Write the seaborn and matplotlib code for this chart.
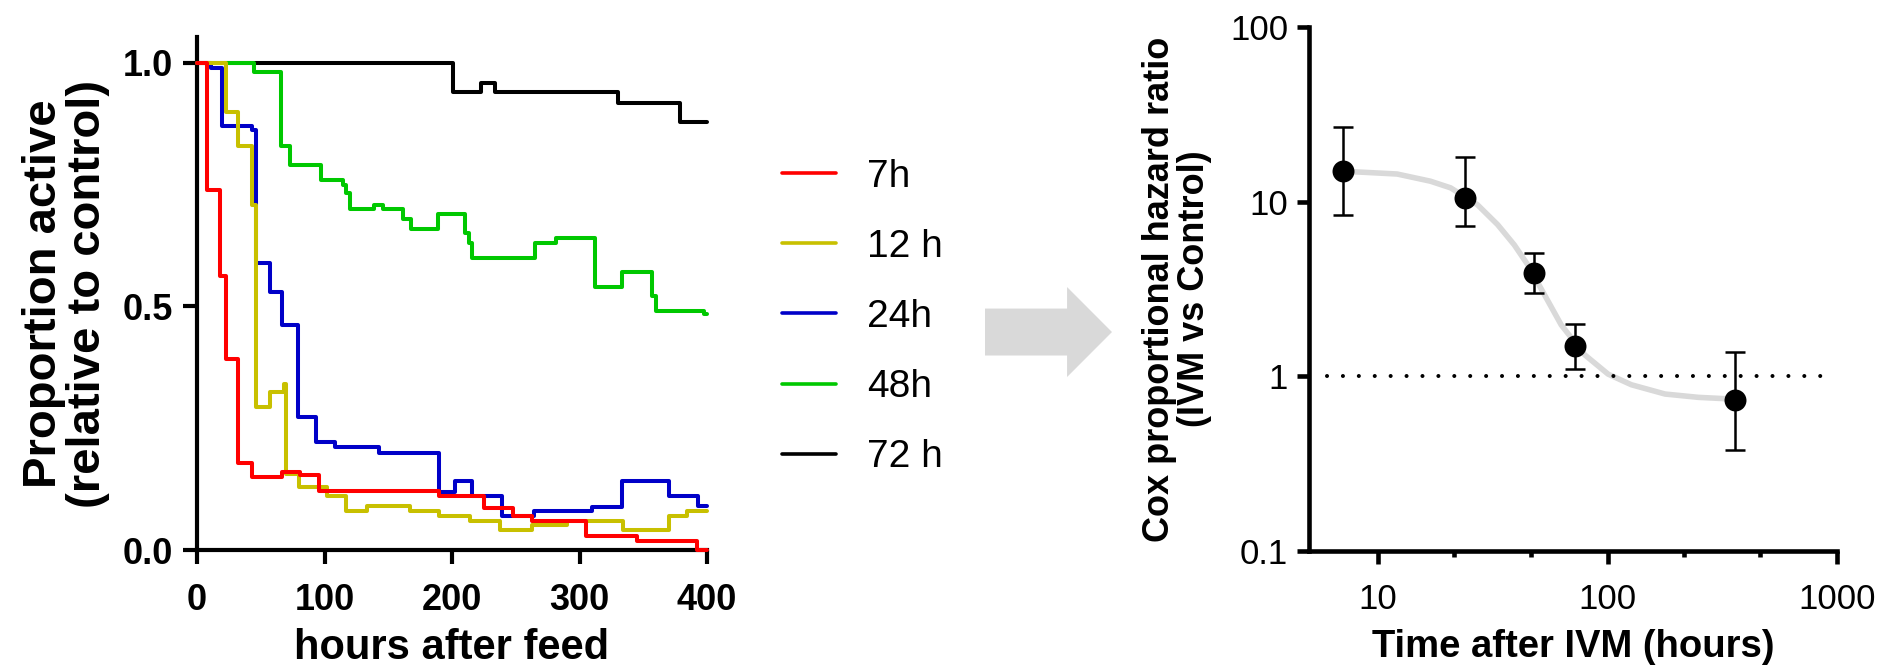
import matplotlib
matplotlib.use('Agg')
import matplotlib.pyplot as plt
import seaborn as sns
from matplotlib.patches import FancyArrow
from matplotlib.lines import Line2D
from matplotlib.ticker import NullLocator

sns.set_style('ticks')
plt.rcParams['font.family'] = ['Liberation Sans', 'DejaVu Sans']
for key in ['text.color', 'axes.labelcolor', 'xtick.color', 'ytick.color', 'axes.edgecolor']:
    plt.rcParams[key] = 'black'

# left panel: proportion active (step curves), hours after feed
series_names = ['7h', '12 h', '24h', '48h', '72 h']
series_colors = ['#ff0000', '#c8c000', '#0000c8', '#00c800', '#000000']

t_7h = [0, 7.6, 18, 22.4, 32, 43, 67, 81, 95.6, 190, 225, 248, 263, 305, 345, 392, 400]
p_7h = [1.0, 0.738, 0.562, 0.393, 0.179, 0.150, 0.160, 0.153, 0.121, 0.110, 0.086, 0.069, 0.060, 0.029, 0.019, 0.0, 0.0]

t_12h = [0, 22.9, 32.3, 43, 46.6, 57.4, 68, 70, 80, 102, 117, 133, 167, 190, 214, 238, 263, 290, 334, 370, 384, 400]
p_12h = [1.0, 0.90, 0.829, 0.709, 0.293, 0.324, 0.341, 0.155, 0.130, 0.110, 0.081, 0.090, 0.081, 0.070, 0.059, 0.041, 0.052, 0.059, 0.041, 0.070, 0.081, 0.081]

t_24h = [0, 10.8, 19.5, 43, 46.6, 57.4, 66.8, 79.5, 93, 108, 143, 190, 202, 215.5, 239, 264, 310, 333, 370, 393, 400]
p_24h = [1.0, 0.99, 0.870, 0.862, 0.589, 0.529, 0.462, 0.272, 0.221, 0.212, 0.200, 0.119, 0.141, 0.110, 0.069, 0.081, 0.088, 0.141, 0.110, 0.090, 0.090]

t_48h = [0, 44.5, 66, 72.7, 97, 114.5, 117, 120, 139, 145.5, 161.6, 168, 189, 210, 213.6, 216, 265, 281.5, 312.5, 333, 357, 360, 398, 400]
p_48h = [1.0, 0.981, 0.829, 0.790, 0.760, 0.750, 0.733, 0.699, 0.709, 0.699, 0.680, 0.659, 0.690, 0.651, 0.630, 0.599, 0.630, 0.640, 0.539, 0.570, 0.521, 0.490, 0.485, 0.485]

t_72h = [0, 200.7, 222.8, 234, 330.5, 378.5, 400]
p_72h = [1.0, 0.940, 0.959, 0.940, 0.918, 0.878, 0.878]

x_ticks_left = [0, 100, 200, 300, 400]
y_ticks_left = [0, 0.5, 1.0]
y_ticklabels_left = ['0.0', '0.5', '1.0']

# right panel: cox hazard ratio vs time after IVM
hr_time = [7, 24, 48, 72, 360]
hr = [15.0, 10.5, 3.9, 1.5, 0.73]
hr_lo = [8.4, 7.3, 3.0, 1.1, 0.378]
hr_hi = [26.8, 18.1, 5.1, 2.0, 1.38]

# fitted curve
fit_time = [7, 8.1, 12.1, 16.9, 20.7, 27.1, 33.2, 39.2, 44.9, 53.1, 62.8, 79.4, 100.5, 127, 178, 249, 325, 360]
fit_hr = [14.9, 14.8, 14.4, 13.1, 12.0, 9.6, 7.38, 5.66, 4.35, 2.93, 1.97, 1.33, 1.03, 0.895, 0.792, 0.758, 0.745, 0.735]

ref_x = [6, 975]
ref_y = [1, 1]

x_ticks_right = [10, 100, 1000]
x_minor_right = [21.5, 46.4, 215, 464]
y_ticks_right = [0.1, 1, 10, 100]
y_ticklabels_right = ['0.1', '1', '10', '100']

fig = plt.figure(figsize=(18.95, 6.67), dpi=100)

# ---- left panel
ax1 = fig.add_axes([0.104, 0.1754, 0.2691, 0.7691])
curves = [(t_72h, p_72h, series_colors[4]),
          (t_48h, p_48h, series_colors[3]),
          (t_24h, p_24h, series_colors[2]),
          (t_12h, p_12h, series_colors[1]),
          (t_7h, p_7h, series_colors[0])]
for t, p, c in curves:
    sns.lineplot(x=t, y=p, ax=ax1, color=c, lw=2.9, drawstyle='steps-post',
                 estimator=None, legend=False, zorder=3, clip_on=False)

ax1.set_xlim(0, 400)
ax1.set_ylim(0, 1.053)
ax1.set_xticks(x_ticks_left)
ax1.set_yticks(y_ticks_left)
ax1.set_yticklabels(y_ticklabels_left)
ax1.tick_params(axis='both', width=3, length=10, labelsize=26, direction='out')
ax1.tick_params(axis='x', pad=14)
ax1.tick_params(axis='y', pad=7)
for lbl in ax1.get_xticklabels() + ax1.get_yticklabels():
    lbl.set_fontweight('bold')
sns.despine(ax=ax1)
for s in ['left', 'bottom']:
    ax1.spines[s].set_linewidth(3)
ax1.set_xlabel('hours after feed', fontsize=30, fontweight='bold')
ax1.set_ylabel('Proportion active\n(relative to control)', fontsize=34, fontweight='bold',
               linespacing=1.0)
ax1.xaxis.set_label_coords(0.5, -0.152)
ax1.yaxis.set_label_coords(-0.171, 0.5)

# legend
handles = [Line2D([], [], color=c, lw=2.6) for c in series_colors]
fig.legend(handles, series_names, loc='center left', bbox_to_anchor=(0.4127, 0.5247),
           frameon=False, fontsize=28, handlelength=1.39, handletextpad=0.8,
           labelspacing=0.88, borderpad=0, borderaxespad=0)

# arrow between panels
arrow = FancyArrow(0.5198, 0.5022, 0.0670, 0, width=0.0704, head_width=0.1349,
                   head_length=0.0237, length_includes_head=True,
                   transform=fig.transFigure, color='#d9d9d9', lw=0)
fig.patches.append(arrow)

# ---- right panel
ax2 = fig.add_axes([0.6908, 0.1739, 0.2786, 0.7856])
ax2.set_xscale('log')
ax2.set_yscale('log')
sns.lineplot(x=fit_time, y=fit_hr, ax=ax2, color='#d9d9d9', lw=4, estimator=None,
             legend=False, zorder=1)
ax2.plot(ref_x, ref_y, color='black', lw=2.9, linestyle=(0, (0.01, 3.94)),
         dash_capstyle='round', zorder=2)
yerr = [[h - lo for h, lo in zip(hr, hr_lo)], [hi - h for h, hi in zip(hr, hr_hi)]]
ax2.errorbar(hr_time, hr, yerr=yerr, fmt='none', ecolor='black', elinewidth=1.8,
             capsize=7.5, capthick=1.8, zorder=3)
sns.scatterplot(x=hr_time, y=hr, ax=ax2, color='black', s=250, edgecolor='black',
                linewidth=0, zorder=4, legend=False)

ax2.set_xlim(5, 1000)
ax2.set_ylim(0.1, 100)
ax2.set_xticks(x_ticks_right)
ax2.set_xticklabels([str(v) for v in x_ticks_right])
ax2.set_xticks(x_minor_right, minor=True)
ax2.set_xticklabels([], minor=True)
ax2.set_yticks(y_ticks_right)
ax2.set_yticklabels(y_ticklabels_right)
ax2.yaxis.set_minor_locator(NullLocator())
ax2.tick_params(axis='both', which='major', width=3.3, length=9, labelsize=25)
ax2.tick_params(axis='x', which='minor', width=3.3, length=4.5)
ax2.tick_params(axis='x', pad=14)
ax2.tick_params(axis='y', pad=6)
sns.despine(ax=ax2)
for s in ['left', 'bottom']:
    ax2.spines[s].set_linewidth(3.3)
ax2.set_xlabel('Time after IVM (hours)', fontsize=27.5, fontweight='bold')
ax2.set_ylabel('Cox proportional hazard ratio\n(IVM vs Control)', fontsize=26, fontweight='bold',
               linespacing=1.0)
ax2.xaxis.set_label_coords(0.5, -0.148)
ax2.yaxis.set_label_coords(-0.184, 0.5)

fig.savefig('out.png', dpi=100)
